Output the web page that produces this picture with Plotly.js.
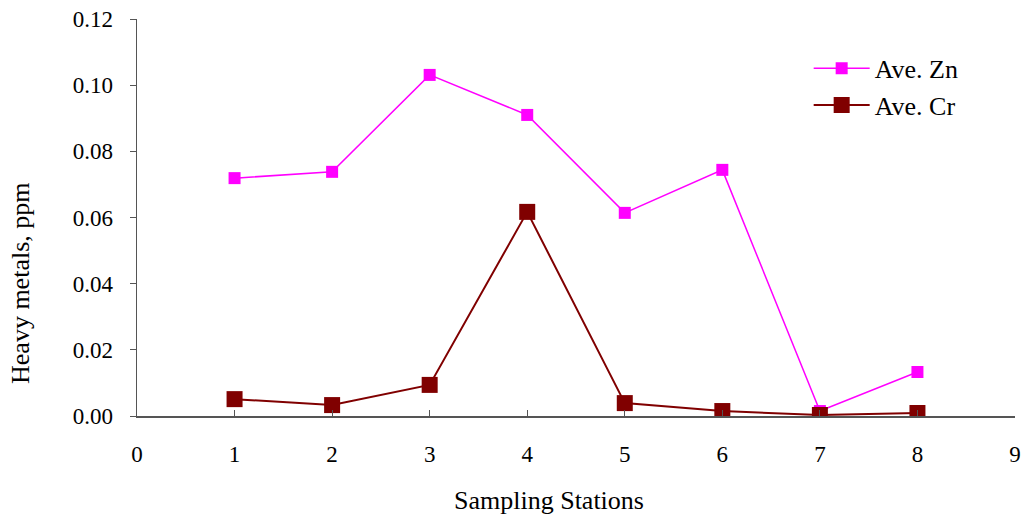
<!DOCTYPE html>
<html><head><meta charset="utf-8">
<script src="https://cdn.plot.ly/plotly-3.0.1.min.js"></script>
<style>html,body{margin:0;padding:0;background:#fff}#chart{width:1024px;height:516px}</style>
</head><body><div id="chart"></div>
<script>
const stations = [1, 2, 3, 4, 5, 6, 7, 8];
const aveZn = [0.0719, 0.0738, 0.1031, 0.0910, 0.0614, 0.0744, 0.0015, 0.0133];
const aveCr = [0.0051, 0.0033, 0.0094, 0.0617, 0.0039, 0.0015, 0.0003, 0.0009];
const yTickVals = [0, 0.02, 0.04, 0.06, 0.08, 0.10, 0.12];
const yTickText = ['0.00', '0.02', '0.04', '0.06', '0.08', '0.10', '0.12'];
const xTitle = 'Sampling Stations';
const yTitle = 'Heavy metals, ppm';

const fam = '"Liberation Serif", "Times New Roman", serif';
const tickFont = {family: fam, size: 23, color: '#000'};
const titleFont = {family: fam, size: 26, color: '#000'};

const traces = [
  {x: stations, y: aveZn, name: 'Ave. Zn', mode: 'lines+markers', type: 'scatter',
   line: {color: '#FF00FF', width: 1.5}, marker: {symbol: 'square', size: 12, color: '#FF00FF'}},
  {x: stations, y: aveCr, name: 'Ave. Cr', mode: 'lines+markers', type: 'scatter',
   line: {color: '#800000', width: 2}, marker: {symbol: 'square', size: 16, color: '#800000'}}
];

const layout = {
  width: 1024, height: 516,
  margin: {l: 137, r: 9, t: 19, b: 100},
  paper_bgcolor: '#fff', plot_bgcolor: '#fff',
  font: tickFont,
  showlegend: true,
  legend: {x: 0.765, y: 0.935, xanchor: 'left', yanchor: 'top', font: titleFont, bgcolor: 'rgba(0,0,0,0)', itemwidth: 56},
  xaxis: {
    range: [0, 9], tickvals: [0,1,2,3,4,5,6,7,8,9], ticks: 'inside', ticklen: 6, tickcolor: '#555',
    showline: true, linecolor: '#555', linewidth: 1.5, showgrid: false, zeroline: false,
    tickfont: tickFont, ticklabelstandoff: 17
  },
  yaxis: {
    range: [0, 0.12], tickvals: yTickVals, ticktext: yTickText, ticks: 'outside', ticklen: 6, tickcolor: '#555',
    showline: true, linecolor: '#555', linewidth: 1.5, showgrid: false, zeroline: false,
    tickfont: tickFont, ticklabelstandoff: 12
  },
  annotations: [
    {text: xTitle, xref: 'paper', yref: 'paper', x: 0.4692, y: -0.2116, xanchor: 'center', yanchor: 'middle',
     showarrow: false, font: titleFont},
    {text: yTitle, xref: 'paper', yref: 'paper', x: -0.1333, y: 0.335, xanchor: 'center', yanchor: 'middle',
     textangle: -90, showarrow: false, font: titleFont}
  ]
};
Plotly.newPlot('chart', traces, layout, {displayModeBar: false, staticPlot: true});
</script></body></html>
